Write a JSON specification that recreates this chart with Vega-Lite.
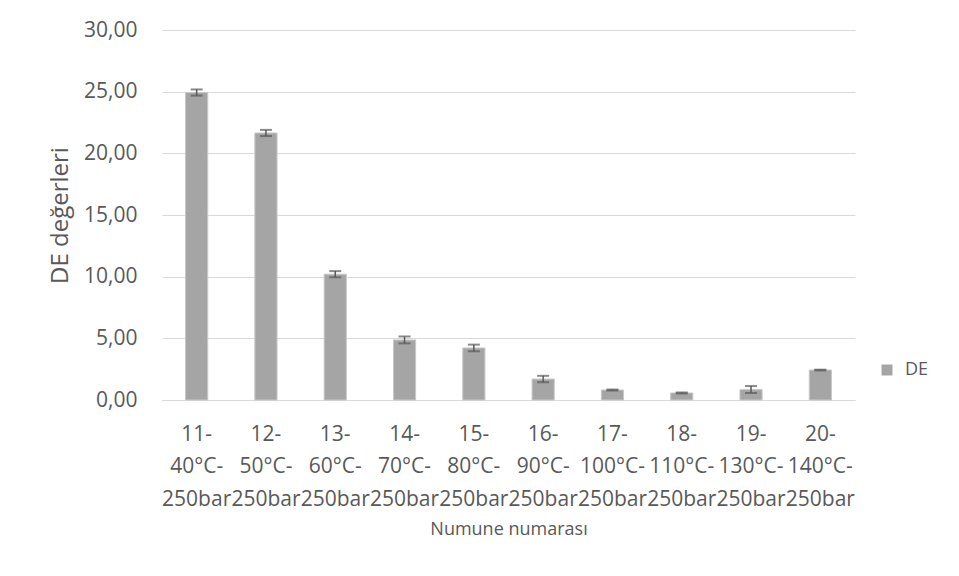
{
  "$schema": "https://vega.github.io/schema/vega-lite/v6.json",
  "width": 693,
  "height": 370,
  "autosize": {"type": "none"},
  "padding": {"left": 162, "top": 30, "right": 104, "bottom": 176},
  "background": "white",
  "config": {
    "font": "Open Sans",
    "view": {"stroke": null},
    "axis": {"labelColor": "#595959", "titleColor": "#595959", "labelFont": "Open Sans", "titleFont": "Open Sans"}
  },
  "data": {
    "values": [
      {"Numune": "11-|40°C-|250bar", "DE": 24.93, "lo": 24.68, "hi": 25.18, "series": "DE"},
      {"Numune": "12-|50°C-|250bar", "DE": 21.65, "lo": 21.40, "hi": 21.90, "series": "DE"},
      {"Numune": "13-|60°C-|250bar", "DE": 10.20, "lo": 9.95, "hi": 10.45, "series": "DE"},
      {"Numune": "14-|70°C-|250bar", "DE": 4.87, "lo": 4.59, "hi": 5.15, "series": "DE"},
      {"Numune": "15-|80°C-|250bar", "DE": 4.22, "lo": 3.95, "hi": 4.49, "series": "DE"},
      {"Numune": "16-|90°C-|250bar", "DE": 1.70, "lo": 1.44, "hi": 1.96, "series": "DE"},
      {"Numune": "17-|100°C-|250bar", "DE": 0.81, "lo": 0.77, "hi": 0.85, "series": "DE"},
      {"Numune": "18-|110°C-|250bar", "DE": 0.57, "lo": 0.53, "hi": 0.61, "series": "DE"},
      {"Numune": "19-|130°C-|250bar", "DE": 0.84, "lo": 0.57, "hi": 1.13, "series": "DE"},
      {"Numune": "20-|140°C-|250bar", "DE": 2.43, "lo": 2.40, "hi": 2.46, "series": "DE"}
    ]
  },
  "encoding": {
    "x": {
      "field": "Numune", "type": "nominal", "sort": null,
      "scale": {"paddingInner": 0.68, "paddingOuter": 0.34},
      "axis": {
        "title": "Numune numarası", "titleFontSize": 18, "titleFontWeight": "normal", "titlePadding": 11,
        "labelExpr": "split(datum.value, '|')", "labelAngle": 0, "labelFontSize": 21,
        "labelLineHeight": 32.5, "labelPadding": 23, "ticks": false,
        "domainColor": "#d9d9d9", "labelOverlap": false, "labelBound": false
      }
    }
  },
  "layer": [
    {
      "mark": {"type": "bar", "stroke": "#c8c8c8", "strokeWidth": 1},
      "encoding": {
        "y": {
          "field": "DE", "type": "quantitative",
          "scale": {"domain": [0, 30]},
          "axis": {
            "title": "DE değerleri", "titleFontSize": 24, "titleFontWeight": "normal", "titlePadding": 11,
            "values": [0, 5, 10, 15, 20, 25, 30],
            "labelExpr": "replace(format(datum.value, '.2f'), '.', ',')",
            "labelFontSize": 21, "labelPadding": 25, "ticks": false, "domain": false,
            "gridColor": "#d9d9d9", "gridWidth": 1
          }
        },
        "color": {
          "field": "series", "type": "nominal",
          "scale": {"range": ["#a5a5a5"]},
          "legend": {
            "title": null, "orient": "none", "legendX": 716, "legendY": 331,
            "symbolType": "square", "symbolSize": 120, "labelFontSize": 18, "labelOffset": 9, "labelColor": "#595959",
            "labelFont": "Open Sans", "symbolStrokeWidth": 0
          }
        }
      }
    },
    {
      "mark": {"type": "rule", "color": "#595959", "strokeWidth": 1.5},
      "encoding": {"y": {"field": "lo", "type": "quantitative"}, "y2": {"field": "hi"}}
    },
    {
      "mark": {"type": "tick", "color": "#595959", "thickness": 2, "size": 12, "orient": "horizontal"},
      "encoding": {"y": {"field": "lo", "type": "quantitative"}}
    },
    {
      "mark": {"type": "tick", "color": "#595959", "thickness": 2, "size": 12, "orient": "horizontal"},
      "encoding": {"y": {"field": "hi", "type": "quantitative"}}
    }
  ]
}
